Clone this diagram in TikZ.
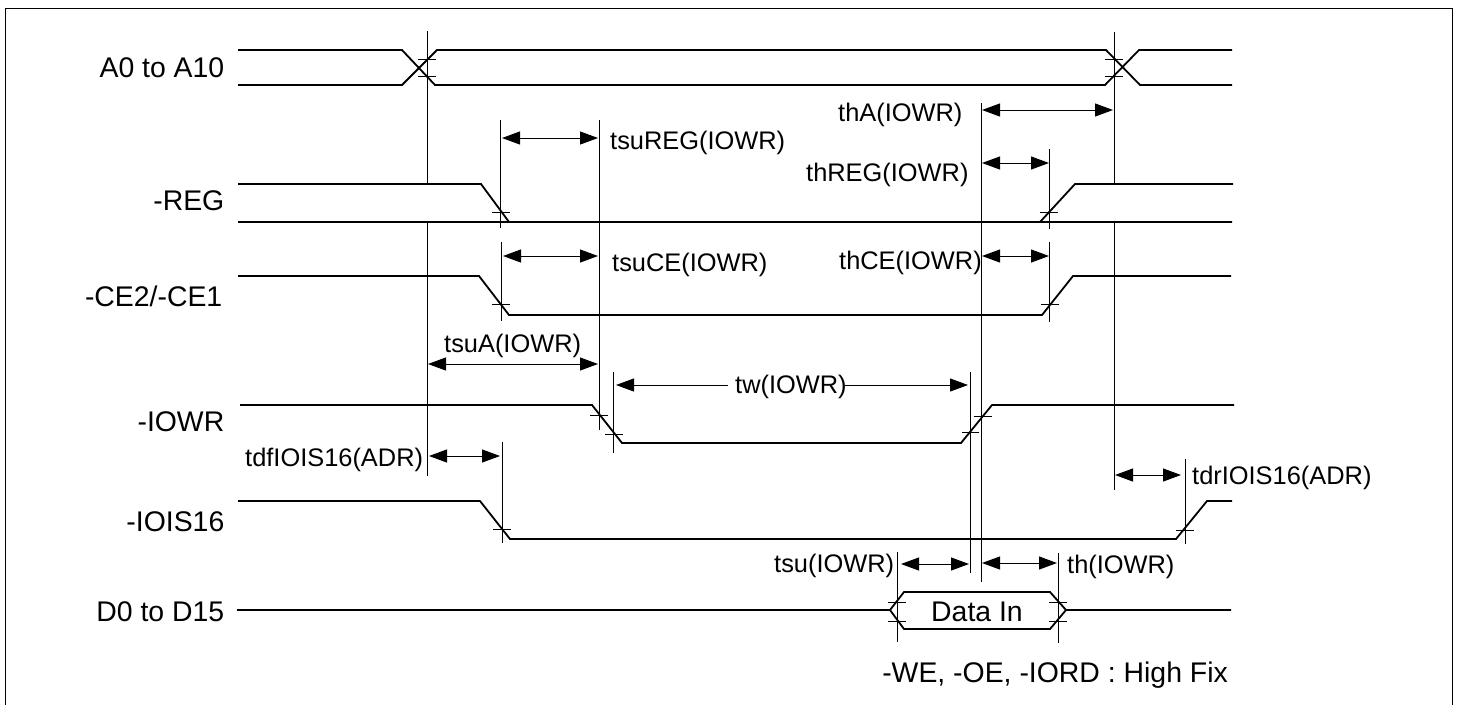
\documentclass[tikz,border=0pt]{standalone}
\usepackage{fontspec}
\setmainfont{Liberation Sans}
\usetikzlibrary{arrows.meta}
\tikzset{
  signame/.style={inner sep=0pt,anchor=base east,font=\fontsize{28.4}{30}\selectfont},
  timeleft/.style={inner sep=0pt,anchor=base west,font=\fontsize{25.4}{27}\selectfont},
  wave/.style={line width=1.8pt},
  guide/.style={line width=1pt},
  tick/.style={line width=1pt},
  head/.tip={Triangle[length=18pt,width=13pt]},
  span/.style={line width=1pt,head-head},
}
\begin{document}
\begin{tikzpicture}[x=1pt,y=-1pt]
      \useasboundingbox (0,0) rectangle (1461,705);
      \draw[line width=1pt] (5.5,705) -- (5.5,8.5) -- (1452.5,8.5) -- (1452.5,705);
      % signal names
      \draw
        (224.5,77) node[signame] (a0name){A0 to A10}
        (224.5,210) node[signame] (regname){-REG}
        (222.5,306) node[signame] (cename){-CE2/-CE1}
        (224.5,431) node[signame] (iowrname){-IOWR}
        (224.5,531) node[signame] (ioisname){-IOIS16}
        (224.5,621) node[signame] (d0name){D0 to D15}
        (977,621) node[signame,anchor=base] (datain){Data In}
        (1228,682) node[signame] (fixnote){-WE, -OE, -IORD : High Fix};
      % waveforms
      \begin{scope}[wave]
        \draw (238,50) -- (402,50) -- (435,85) -- (1105,85) -- (1139,50) -- (1232,50);
        \draw (238,85) -- (402,85) -- (437,50) -- (1106,50) -- (1140,85) -- (1232,85);
        \draw (238,184) -- (481,184) -- (509,222) -- (1232,222);
        \draw (238,222) -- (1040,222) -- (1075,184) -- (1233,184);
        \draw (238,276) -- (479,276) -- (509,315) -- (1042,315) -- (1073,276) -- (1231,276);
        \draw (240,405) -- (592,405) -- (622,443) -- (961,443) -- (992,405) -- (1234,405);
        \draw (238,501) -- (480,501) -- (510,539) -- (1176,539) -- (1207,501) -- (1232,501);
        \draw (237,610) -- (890,610) -- (904,592) -- (1050,592) -- (1066,610) -- (1231,610);
        \draw (890,610) -- (904,629) -- (1050,629) -- (1066,610);
      \end{scope}
      % guide lines
      \begin{scope}[guide]
        \draw (427,31) to (427,184);
        \draw (427,222) to (427,476);
        \draw (500.5,120) to (500.5,228);
        \draw (501.5,242) to (501.5,321);
        \draw (599,120) to (599,430);
        \draw (613.5,372) to (613.5,453);
        \draw (502.5,442) to (502.5,543);
        \draw (970.5,372) to (970.5,573);
        \draw (981,103) to (981,582);
        \draw (1049.5,149) to (1049.5,229);
        \draw (1049.5,242) to (1049.5,322);
        \draw (1114,32) to (1114,184);
        \draw (1114,222) to (1114,490);
        \draw (1185.5,459) to (1185.5,544);
        \draw (897.5,552) to (897.5,642);
        \draw (1058,553) to (1058,643);
      \end{scope}
      % crossing marks
      \begin{scope}[tick]
        \draw (418,59) to (436,59);
        \draw (418,76) to (436,76);
        \draw (1105,59) to (1123,59);
        \draw (1105,76) to (1123,76);
        \draw (492,212) to (510,212);
        \draw (1040,212) to (1058,212);
        \draw (492,304.5) to (510,304.5);
        \draw (1041,304.5) to (1059,304.5);
        \draw (590,415) to (608,415);
        \draw (605,434) to (623,434);
        \draw (962,432) to (979,432);
        \draw (974,416) to (992,416);
        \draw (493,529) to (511,529);
        \draw (1176,530) to (1194,530);
        \draw (888,602) to (906,602);
        \draw (888,621) to (906,621);
        \draw (1049,602) to (1067,602);
        \draw (1049,621) to (1067,621);
      \end{scope}
      % time labels
      \draw
        (610,149) node[timeleft] (tsureg){tsuREG(IOWR)}
        (612,271) node[timeleft] (tsuce){tsuCE(IOWR)}
        (444,352) node[timeleft] (tsua){tsuA(IOWR)}
        (735,393) node[timeleft] (tw){tw(IOWR)}
        (245,466) node[timeleft] (tdf){tdfIOIS16(ADR)}
        (1192,484) node[timeleft] (tdr){tdrIOIS16(ADR)}
        (838,121) node[timeleft] (tha){thA(IOWR)}
        (806,181) node[timeleft] (threg){thREG(IOWR)}
        (839,269) node[timeleft] (thce){thCE(IOWR)}
        (774,572) node[timeleft] (tsu){tsu(IOWR)}
        (1067,573) node[timeleft] (th){th(IOWR)};
      % span end points
      \draw
        (502,138) coordinate (tsurega) (598,138) coordinate (tsuregb)
        (503,256) coordinate (tsucea) (598,256) coordinate (tsuceb)
        (428,364) coordinate (tsuaa) (598,364) coordinate (tsuab)
        (616,385) coordinate (twa) (728,385) coordinate (twb)
        (845,385) coordinate (twc) (968,385) coordinate (twd)
        (429,456) coordinate (tdfa) (500,456) coordinate (tdfb)
        (1115,475) coordinate (tdra) (1181,475) coordinate (tdrb)
        (982,110) coordinate (thaa) (1113,110) coordinate (thab)
        (982,163) coordinate (threga) (1049,163) coordinate (thregb)
        (982,256) coordinate (thcea) (1049,256) coordinate (thceb)
        (901,564) coordinate (tsua1) (969,564) coordinate (tsub1)
        (982,563) coordinate (tha1) (1057,563) coordinate (thb1);
      \begin{scope}[span]
        \draw (tsurega) to (tsuregb);
        \draw (tsucea) to (tsuceb);
        \draw (tsuaa) to (tsuab);
        \draw[head-] (twa) to (twb);
        \draw[-head] (twc) to (twd);
        \draw (tdfa) to (tdfb);
        \draw (tdra) to (tdrb);
        \draw (thaa) to (thab);
        \draw (threga) to (thregb);
        \draw (thcea) to (thceb);
        \draw (tsua1) to (tsub1);
        \draw (tha1) to (thb1);
      \end{scope}
    \end{tikzpicture}
\end{document}
